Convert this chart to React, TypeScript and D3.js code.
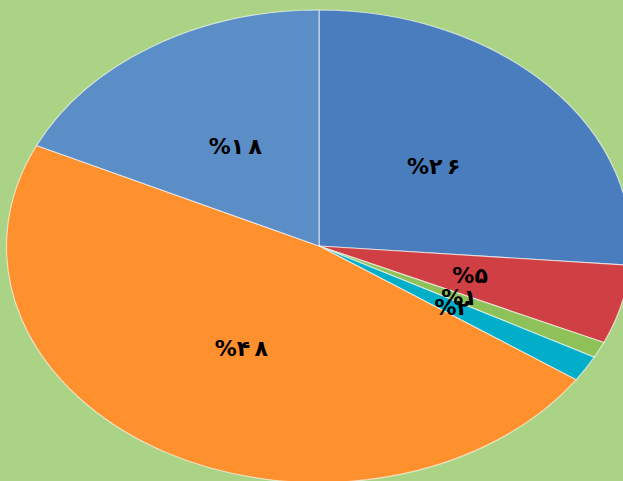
import { useEffect, useRef } from 'react'
import * as d3 from 'd3'

// slice shares, clockwise from 12 o'clock
const shares = [26.3, 5.4, 1.1, 1.8, 47.4, 18.0]
const labels = ['%۲۶', '%۵', '%۱', '%۲', '%۴۸', '%۱۸']
const colors = ['#4a7dbd', '#d03f44', '#8ec158', '#00aec9', '#fe902e', '#5b8dc7']

const W = 623
const H = 481

export default function App() {
  const svgRef = useRef<SVGSVGElement>(null)

  useEffect(() => {
    if (!svgRef.current) return
    const svg = d3.select(svgRef.current)
    svg.selectAll('*').remove()

    const cx = 319
    const cy = 246
    const rx = 312
    const ry = 236

    svg.append('rect')
      .attr('width', W)
      .attr('height', H)
      .attr('fill', '#abd385')

    const pie = d3.pie<number>().sort(null).value(d => d)
    const arcs = pie(shares)
    const arc = d3.arc<d3.PieArcDatum<number>>().innerRadius(0).outerRadius(1)

    // pie drawn on a unit circle, stretched into an ellipse
    const g = svg.append('g')
      .attr('transform', `translate(${cx},${cy}) scale(${rx},${ry})`)

    g.selectAll('path')
      .data(arcs)
      .enter().append('path')
      .attr('d', arc)
      .attr('fill', (_, i) => colors[i])
      .attr('stroke', '#ffffff')
      .attr('stroke-opacity', 0.6)
      .attr('stroke-width', 1.2)
      .attr('vector-effect', 'non-scaling-stroke')

    const labelArc = d3.arc<d3.PieArcDatum<number>>().innerRadius(0.5).outerRadius(0.5)

    // letter-spacing is ignored for arabic digits, so pad digits with thin spaces
    svg.selectAll('text.lbl')
      .data(arcs)
      .enter().append('text')
      .attr('class', 'lbl')
      .attr('x', d => cx + labelArc.centroid(d)[0] * rx)
      .attr('y', d => cy + labelArc.centroid(d)[1] * ry)
      .attr('text-anchor', 'middle')
      .attr('dominant-baseline', 'central')
      .attr('font-family', 'DejaVu Sans, sans-serif')
      .attr('font-weight', 'bold')
      .attr('font-size', 22)
      .attr('fill', '#000000')
      .text((_, i) => labels[i][0] + labels[i].slice(1).split('').join('\u2009'))
  }, [])

  return (
    <svg
      ref={svgRef}
      width={W}
      height={H}
      style={{ position: 'fixed', left: 0, top: 0, display: 'block' }}
    />
  )
}
